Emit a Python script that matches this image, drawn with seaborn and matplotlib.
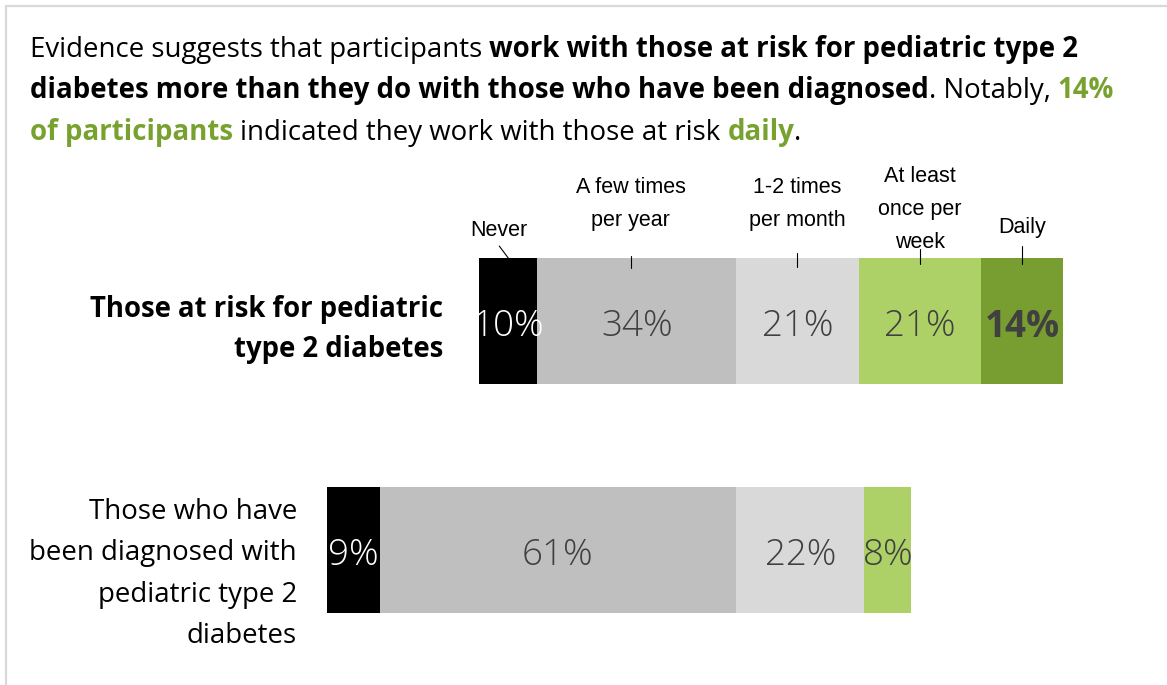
import matplotlib
matplotlib.use("Agg")
import matplotlib.pyplot as plt
import matplotlib.transforms as mtransforms
from matplotlib.lines import Line2D
import seaborn as sns
import pandas as pd
import numpy as np

# ---------------- data ----------------
rows = ["Those at risk for pediatric\ntype 2 diabetes",
        "Those who have\nbeen diagnosed with\npediatric type 2\ndiabetes"]
categories = ["Never", "A few times\nper year", "1-2 times\nper month",
              "At least\nonce per\nweek", "Daily"]
at_risk = [10, 34, 21, 21, 14]
diagnosed = [9, 61, 22, 8, 0]
colors = ["#000000", "#bfbfbf", "#d9d9d9", "#add067", "#789d30"]
GREEN = "#78a22f"

# --------------- layout ---------------
W, H = 1167, 685
sns.set_theme(style="white")
plt.rcParams["font.family"] = ["Open Sans", "DejaVu Sans"]

fig = plt.figure(figsize=(W / 100, H / 100), dpi=100)
ax = fig.add_axes([0, 0, 1, 1])
pxT = mtransforms.Affine2D().scale(1, -1).translate(0, H)

# long-form table; bars anchored at end of "A few times per year"
records = []
for r, vals in zip(rows, [at_risk, diagnosed]):
    start = -(vals[0] + vals[1])
    cum = np.cumsum([0] + vals[:-1]) + start
    for c, v, l in zip(categories, vals, cum):
        records.append(dict(row=r, category=c, value=v, left=l))
df = pd.DataFrame(records)

scale = 5.84          # px per percent
x0px = 736            # px of anchor
for i, c in enumerate(categories):
    sub = df[df.category == c].set_index("row").loc[rows].reset_index()
    sns.barplot(data=sub, x="value", y="row", order=rows, orient="h",
                color=colors[i], saturation=1, width=126 / 229,
                errorbar=None, linewidth=0, left=sub["left"].values, ax=ax)

ax.set_xlim((0 - x0px) / scale, (W - x0px) / scale)
ax.set_ylim((H - 321) / 229, (0 - 321) / 229)
ax.axis("off")

# percentage labels
txt_colors = ["white", "#404040", "#404040", "#404040", "#404040"]
for ri, r in enumerate(rows):
    sub = df[df.row == r]
    for i, (_, rec) in enumerate(sub.iterrows()):
        if rec.value == 0:
            continue
        xc = rec.left + rec.value / 2
        bold = (ri == 0 and i == 4)
        ax.text(xc, ri + 0.025, f"{rec.value}%", ha="center", va="center",
                fontsize=26.5, color=txt_colors[i],
                fontweight="bold" if bold else "light",
                family=["Open Sans", "DejaVu Sans"])

# category header labels (above top bar)
label_y = [231, 204, 204, 210, 228]
label_dx = [-9, -6, 0, 0, 0]
lead_top = [246, 256, 253, 249, 246]
lead_bot = [258, 268, 267, 264, 264]
lead_dx_bot = [-3, -6, 0, 0, 0]
top = df[df.row == rows[0]].reset_index(drop=True)
for i, c in enumerate(categories):
    xc = top.left[i] + top.value[i] / 2
    xpx = x0px + xc * scale
    lines = c.split("\n")
    n = len(lines)
    for k, line in enumerate(lines):
        yy = label_y[i] + (k - (n - 1) / 2) * 33
        fig.text(xpx + label_dx[i], yy, line, transform=pxT, ha="center",
                 va="center", fontsize=15.5, color="black",
                 family=["Liberation Sans", "DejaVu Sans"])
    x_top = xpx + label_dx[i]
    x_bot = xpx + lead_dx_bot[i] + (3 if i == 0 else 0)
    fig.add_artist(Line2D([x_top, x_bot], [lead_top[i], lead_bot[i]], transform=pxT,
                          color="black", linewidth=0.8))

# row labels
row_specs = [(443, [310, 350], "bold"), (297, [512, 553, 595, 636], "normal")]
for r, (xr, ys, wt) in zip(rows, row_specs):
    for line, yy in zip(r.split("\n"), ys):
        fig.text(xr, yy, line, transform=pxT, ha="right", va="center",
                 fontsize=19.8 if wt == "bold" else 19.9, fontweight=wt, color="black")

# rich title text
renderer = fig.canvas.get_renderer()
title_lines = [
    [("Evidence suggests that participants", "normal", "black"), (" ", "normal", "black"),
     ("work with those at risk for pediatric type 2", "bold", "black")],
    [("diabetes more than they do with those who have been diagnosed", "bold", "black"),
     (". Notably,", "normal", "black"), (" ", "normal", "black"), ("14%", "bold", GREEN)],
    [("of participants", "bold", GREEN), (" ", "normal", "black"),
     ("indicated they work with those at risk", "normal", "black"), (" ", "normal", "black"),
     ("daily", "bold", GREEN), (".", "normal", "black")],
]
baselines = [57, 98, 140]
TS = 19.9

def space_w(weight):
    a = fig.text(0, 0, "x x", fontsize=TS, fontweight=weight)
    b = fig.text(0, 0, "xx", fontsize=TS, fontweight=weight)
    w = a.get_window_extent(renderer).width - b.get_window_extent(renderer).width
    a.remove(); b.remove()
    return w

for pieces, yb in zip(title_lines, baselines):
    x = 30
    for s, wt, col in pieces:
        if s == " ":
            x += space_w(wt)
            continue
        t = fig.text(x, yb, s, transform=pxT, ha="left", va="baseline",
                     fontsize=TS, fontweight=wt, color=col)
        x = t.get_window_extent(renderer).x1

# frame border
fig.add_artist(Line2D([6, W], [6, 6], transform=pxT, color="#d9d9d9", linewidth=1.6))
fig.add_artist(Line2D([6, 6], [6, H], transform=pxT, color="#d9d9d9", linewidth=1.6))

fig.savefig("out.png", dpi=100)
